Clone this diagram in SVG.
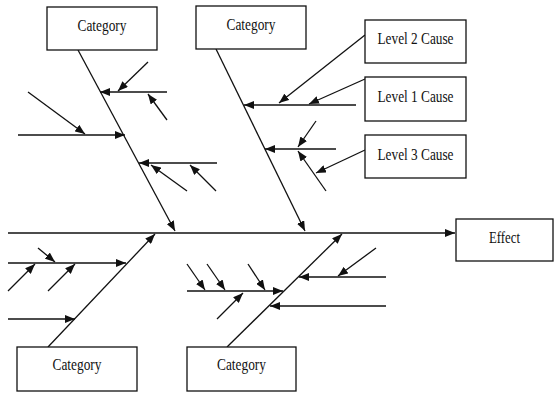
<svg xmlns="http://www.w3.org/2000/svg" width="555" height="394" viewBox="0 0 555 394">
<style>
.box{fill:#fff;stroke:#111;stroke-width:1.3}
.t{font-family:"Liberation Serif","Times New Roman",serif;font-size:16px;fill:#111;text-anchor:middle}
.ln{stroke:#111;stroke-width:1.3;fill:none}
.a{marker-end:url(#ah)}
</style>
<defs>
<marker id="ah" viewBox="0 0 10 8" refX="10" refY="4" markerWidth="10" markerHeight="8" orient="auto" markerUnits="userSpaceOnUse">
<path d="M0,0 L10,4 L0,8 z" fill="#111"/>
</marker>
</defs>
<rect width="555" height="394" fill="#fff"/>
<g id="connectors">
<line class="ln a" x1="8" y1="233" x2="455" y2="233" style="stroke-width:1.5"/>
<line class="ln a" x1="78" y1="50" x2="175" y2="231"/>
<line class="ln a" x1="167" y1="92" x2="100" y2="92"/>
<line class="ln a" x1="148" y1="62" x2="118" y2="91"/>
<line class="ln a" x1="167" y1="120" x2="148" y2="94"/>
<line class="ln a" x1="18" y1="135" x2="125" y2="135"/>
<line class="ln a" x1="28" y1="92" x2="85" y2="134"/>
<line class="ln a" x1="217" y1="163" x2="139" y2="163"/>
<line class="ln a" x1="187" y1="191" x2="151" y2="165"/>
<line class="ln a" x1="216" y1="191" x2="190" y2="165"/>
<line class="ln a" x1="216" y1="49" x2="305" y2="231"/>
<line class="ln a" x1="356" y1="105" x2="244" y2="105"/>
<line class="ln a" x1="365" y1="35" x2="279" y2="103"/>
<line class="ln a" x1="365" y1="79" x2="309" y2="104"/>
<line class="ln a" x1="336" y1="149" x2="265" y2="149"/>
<line class="ln a" x1="316" y1="121" x2="298" y2="147"/>
<line class="ln a" x1="326" y1="191" x2="298" y2="151"/>
<line class="ln a" x1="365" y1="150" x2="316" y2="173"/>
<line class="ln a" x1="48" y1="347" x2="155" y2="234"/>
<line class="ln a" x1="8" y1="263" x2="126" y2="263"/>
<line class="ln a" x1="38" y1="248" x2="55" y2="262"/>
<line class="ln a" x1="8" y1="291" x2="35" y2="264"/>
<line class="ln a" x1="48" y1="291" x2="75" y2="264"/>
<line class="ln a" x1="8" y1="319" x2="75" y2="319"/>
<line class="ln a" x1="227" y1="347" x2="342" y2="234"/>
<line class="ln a" x1="187" y1="291" x2="283" y2="291"/>
<line class="ln a" x1="187" y1="264" x2="205" y2="290"/>
<line class="ln a" x1="207" y1="264" x2="225" y2="290"/>
<line class="ln a" x1="248" y1="264" x2="265" y2="290"/>
<line class="ln a" x1="217" y1="319" x2="243" y2="293"/>
<line class="ln a" x1="386" y1="277" x2="299" y2="277"/>
<line class="ln a" x1="376" y1="248" x2="338" y2="276"/>
<line class="ln a" x1="386" y1="306" x2="270" y2="306"/>
</g>
<g id="cat-top-left"><rect class="box" x="47" y="7" width="110" height="43"/><text class="t" x="102" y="31" textLength="49" lengthAdjust="spacingAndGlyphs">Category</text></g>
<g id="cat-top-mid"><rect class="box" x="196" y="6" width="110" height="43"/><text class="t" x="251" y="30" textLength="49" lengthAdjust="spacingAndGlyphs">Category</text></g>
<g id="level2"><rect class="box" x="365" y="20" width="101" height="43"/><text class="t" x="415.5" y="44" textLength="76" lengthAdjust="spacingAndGlyphs">Level 2 Cause</text></g>
<g id="level1"><rect class="box" x="365" y="77" width="101" height="44"/><text class="t" x="415.5" y="102" textLength="76" lengthAdjust="spacingAndGlyphs">Level 1 Cause</text></g>
<g id="level3"><rect class="box" x="365" y="135" width="101" height="43"/><text class="t" x="415.5" y="160" textLength="76" lengthAdjust="spacingAndGlyphs">Level 3 Cause</text></g>
<g id="effect"><rect class="box" x="456" y="219" width="97" height="42"/><text class="t" x="504.5" y="243" textLength="31" lengthAdjust="spacingAndGlyphs">Effect</text></g>
<g id="cat-bottom-left"><rect class="box" x="17" y="347" width="120" height="44"/><text class="t" x="77" y="370" textLength="49" lengthAdjust="spacingAndGlyphs">Category</text></g>
<g id="cat-bottom-mid"><rect class="box" x="187" y="347" width="109" height="44"/><text class="t" x="241.5" y="370" textLength="49" lengthAdjust="spacingAndGlyphs">Category</text></g>
</svg>
